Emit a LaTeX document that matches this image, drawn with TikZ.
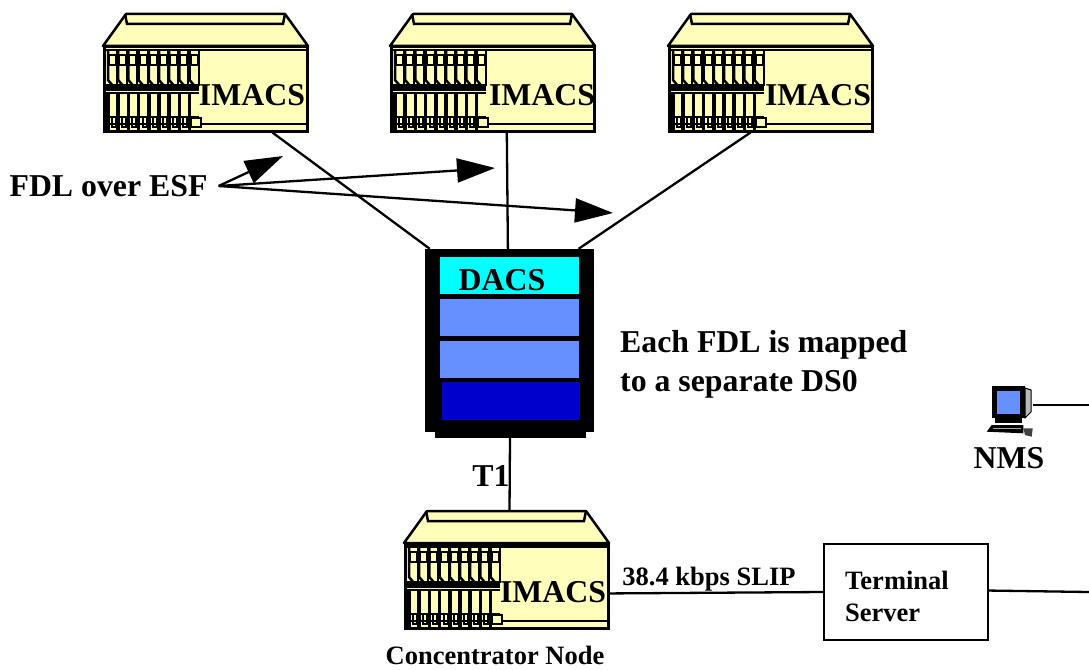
\documentclass[tikz,border=0pt]{standalone}
\usepackage{fontspec}
\setmainfont{Liberation Serif}
\usetikzlibrary{arrows.meta}
\definecolor{chassis}{RGB}{255,255,187}
\definecolor{dacscyan}{RGB}{0,255,255}
\definecolor{dacsblue}{RGB}{102,143,255}
\definecolor{dacsdark}{RGB}{0,0,204}
\tikzset{
    biglabel/.style = {font = \fontsize{31.8}{39}\selectfont\bfseries, inner sep = 0pt},
    smalllabel/.style = {font = \fontsize{26.5}{32}\selectfont\bfseries, inner sep = 0pt},
    wire/.style = {line width = 2.3pt},
    pointer/.style = {line width = 2.3pt, -{Triangle[length = 38pt, width = 24pt]}},
    pics/imacs/.style = {code = {
        \draw[line width = 2.5pt, fill = chassis, line join = round] (0,0) -- (23,-32) -- (182,-32) -- (205,0) -- cycle;
        \draw[line width = 2.5pt] (22,-32) -- (24,-22) -- (180,-22) -- (182,-32);
        \node[draw, line width = 2.5pt, fill = chassis, minimum width = 203pt, minimum height = 84pt, inner sep = 0pt, anchor = north west] (-front) at (0,0) {};
        \coordinate (-top) at (105.5,-32);
        \draw[line width = 2pt] (0,4) -- (203,4);
        \draw[line width = 2pt] (0,78) -- (203,78);
        \foreach \card in {0,...,8} {
            \draw[line width = 2.5pt] (5+10.2*\card,4) -- (5+10.2*\card,34) -- (10+10.2*\card,40);
            \draw[line width = 2pt, fill = chassis] (6+10.2*\card,9) rectangle (13+10.2*\card,19);
            \draw[line width = 2pt] (14+10.2*\card,4) -- (14+10.2*\card,40);
            \draw[line width = 3.5pt] (5+10.2*\card,47) -- (5+10.2*\card,84);
            \draw[line width = 2pt] (9+10.2*\card,71) rectangle (13+10.2*\card,81);
        }
        \draw[line width = 7pt] (3,41) -- (96,41);
        \draw[line width = 2pt] (3,47) -- (96,47);
        \draw[line width = 2.5pt] (3,71) -- (96,71);
        \draw[line width = 2pt, fill = chassis] (88,72) rectangle (98,81);
    }}
}
\begin{document}
\begin{tikzpicture}[x = 1pt, y = -1pt]
        \useasboundingbox (0,0) rectangle (1089,669);

        \pic (imacsA) at (103,46) {imacs};
        \pic (imacsB) at (390,46) {imacs};
        \pic (imacsC) at (668,46) {imacs};
        \pic (imacsD) at (404,543) {imacs};

        \node[biglabel] (imacsAtext) at (252,95) {IMACS};
        \node[biglabel] (imacsBtext) at (542,95) {IMACS};
        \node[biglabel] (imacsCtext) at (818,95) {IMACS};
        \node[biglabel] (imacsDtext) at (553,592) {IMACS};

        % the rack
        \node[fill = black, minimum width = 151pt, minimum height = 10pt, inner sep = 0pt] (dacsfoot) at (510,433) {};
        \node[fill = black, minimum width = 169pt, minimum height = 183pt, inner sep = 0pt] (dacs) at (509.5,340.5) {};
        \fill[dacscyan] (440,257) rectangle (579,294);
        \fill[dacsblue] (440,299) rectangle (579,336);
        \fill[dacsblue] (440,341) rectangle (579,378);
        \fill[dacsdark] (442,382) rectangle (580,420);
        \node[biglabel] (dacstext) at (502,280) {DACS};

        \draw[wire] (imacsA-front.-33.5) -- (dacs.131.7);
        \draw[wire] (imacsB-front.-72) -- (dacs.91.6);
        \draw[wire] (imacsC-front.-115) -- (dacs.53.6);
        \draw[wire] (dacsfoot.south) -- (imacsD-top);

        % pointers out of the label
        \node[biglabel, inner xsep = 11pt] (fdl) at (108.5,186) {FDL over ESF};
        \coordinate (tipA) at (283,156);
        \coordinate (tipB) at (495,168);
        \coordinate (tipC) at (613,213);
        \draw[pointer] (fdl.east) -- (tipA);
        \draw[pointer] (fdl.east) -- (tipB);
        \draw[pointer] (fdl.east) -- (tipC);

        \node[biglabel, align = left, anchor = west] (mapping) at (620,364) {Each FDL is mapped\\to a separate DS0};
        \node[biglabel] (t1) at (491,476) {T1};
        \node[smalllabel] (concentrator) at (495,655) {Concentrator Node};

        % terminal server and its lines
        \node[draw, line width = 2pt, minimum width = 164pt, minimum height = 96pt, inner sep = 0pt] (server) at (906,592) {};
        \node[smalllabel, align = left, anchor = west] (servertext) at (845,596) {Terminal\\Server};
        \draw[wire] (imacsD-front.-4) -- (server.west);
        \node[smalllabel] (sliptext) at (709,579) {38.4 kbps SLIP};
        \coordinate (edgeA) at (1089,592);
        \draw[wire] (server.1) -- (edgeA);

        % the workstation
        \fill[gray!55, draw = black, line width = 1pt] (1025,388) -- (1031,390) -- (1031,412) -- (1025,418) -- cycle;
        \fill[black] (992.3,386) rectangle (1025,418.3);
        \fill[dacsblue] (996.7,390.7) rectangle (1020,414.3);
        \fill[black] (995,418.3) rectangle (1021.7,423.3);
        \fill[black] (991.7,425) -- (1023.3,425) -- (1023.3,433.3) -- (986.7,431.7) -- cycle;
        \draw[gray!70, line width = 0.8pt] (993,428.5) -- (1021,428.5);
        \fill[black!75] (1023.3,428.3) -- (1032.7,428.3) -- (1031.7,436.7) -- (1025,435) -- cycle;
        \node[minimum width = 46pt, minimum height = 52pt, inner sep = 0pt] (nms) at (1010,405) {};
        \coordinate (edgeB) at (1089,405);
        \draw[wire] (nms.east) -- (edgeB);
        \node[biglabel] (nmstext) at (1009,458) {NMS};
\end{tikzpicture}
\end{document}
